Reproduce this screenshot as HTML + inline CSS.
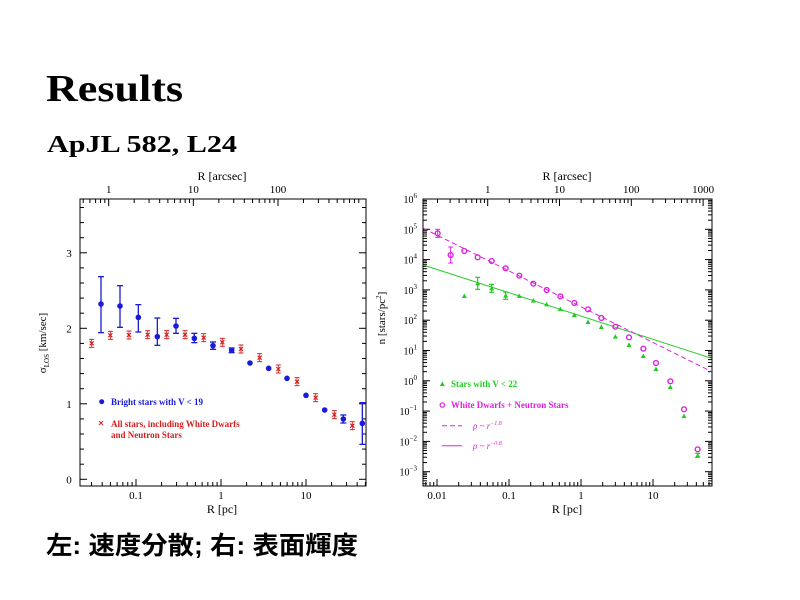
<!DOCTYPE html>
<html><head><meta charset="utf-8"><style>
body{margin:0;background:#fff;width:800px;height:600px;overflow:hidden}
svg{display:block}
</style></head><body>
<svg id="s" width="800" height="600" xmlns="http://www.w3.org/2000/svg" font-family="Liberation Serif, serif">
<text x="46" y="101" font-size="38" font-weight="bold" textLength="137" lengthAdjust="spacingAndGlyphs">Results</text>
<text x="47" y="152" font-size="24" font-weight="bold" textLength="190" lengthAdjust="spacingAndGlyphs">ApJL 582, L24</text>
<text x="46" y="554" font-size="25" font-weight="bold" textLength="312" lengthAdjust="spacingAndGlyphs" font-family="Liberation Sans, Noto Sans CJK JP, sans-serif">左: 速度分散; 右: 表面輝度</text>
</svg>
<script>
const S=document.getElementById('s');const NS='http://www.w3.org/2000/svg';
function el(t,a,txt){const e=document.createElementNS(NS,t);for(const k in a)e.setAttribute(k,a[k]);if(txt!==undefined)e.textContent=txt;S.appendChild(e);return e;}
function line(x1,y1,x2,y2,c,w,d){const a={x1,y1,x2,y2,stroke:c||'#000','stroke-width':w||1};if(d)a['stroke-dasharray']=d;el('line',a);}
function txt(x,y,s,o){o=o||{};return el('text',Object.assign({x,y,'font-size':11,'text-anchor':'middle'},o),s);}
const L=Math.log10;
// ---------- LEFT PANEL ----------
const l={x0:80,x1:366,y0:199,y1:486};
const lx=v=>221+85*L(v), ly=v=>479.3-75.5*v, lxa=v=>108.7+84.65*L(v);
el('rect',{x:l.x0,y:l.y0,width:l.x1-l.x0,height:l.y1-l.y0,fill:'none',stroke:'#000','stroke-width':1});
for(let d=-2;d<=1;d++)for(let m=1;m<10;m++){const v=m*Math.pow(10,d);const x=lx(v);if(x<l.x0||x>l.x1)continue;const len=m==1?7:4;line(x,l.y1,x,l.y1-len);}
for(let d=-1;d<=2;d++)for(let m=1;m<10;m++){const v=m*Math.pow(10,d);const x=lxa(v);if(x<l.x0||x>l.x1)continue;const len=m==1?7:4;line(x,l.y0,x,l.y0+len);}
for(let v=0;v<=3.7;v+=0.2){const y=ly(v);if(y<l.y0)continue;const maj=Math.abs(v-Math.round(v))<0.01;const len=maj?7:4;line(l.x0,y,l.x0+len,y);line(l.x1,y,l.x1-len,y);}
[[0.1,'0.1'],[1,'1'],[10,'10']].forEach(([v,s])=>txt(lx(v),499,s));
[[1,'1'],[10,'10'],[100,'100']].forEach(([v,s])=>txt(lxa(v),193,s));
[0,1,2,3].forEach(v=>txt(69,ly(v)+4,String(v)));
txt(222,513,'R [pc]',{'font-size':12});
txt(222,180,'R [arcsec]',{'font-size':12});
el('text',{x:0,y:0,'font-size':11,'text-anchor':'middle',transform:'translate(46,343) rotate(-90)'}).innerHTML='σ<tspan font-size="7" dy="3">LOS</tspan><tspan dy="-3"> [km/sec]</tspan>';
const toL=(zx,zy)=>[zx/3+30,zy/3+170];
const blue='#1a1ad8',red='#d42020';
const bp=[[213,402,320,488],[270,408,347,472],[325,442,404,486],[382,500,444,526],[438,468,445,490],[493,505,490,518],[549,527,516,538],[605,541,534,548],[660,579],[716,595],[771,625],[828,676],[884,720],[940,747,735,759],[997,760,698,823]];
bp.forEach(p=>{const [x,y]=toL(p[0],p[1]);if(p[2]){const y1=p[2]/3+170,y2=p[3]/3+170;line(x,y1,x,y2,blue,1.3);line(x-3,y1,x+3,y1,blue,1.3);line(x-3,y2,x+3,y2,blue,1.3);}el('circle',{cx:x,cy:y,r:2.8,fill:blue});});
const rp=[[185,520],[241,496],[297,495],[353,494],[410,494],[465,494],[521,503],[577,517],[633,537],[689,563],[745,597],[801,635],[857,683],[913,734],[967,767]];
rp.forEach(p=>{const [x,y]=toL(p[0],p[1]);line(x-2,y-2,x+2,y+2,red,1.2);line(x-2,y+2,x+2,y-2,red,1.2);line(x-2.5,y-4,x+2.5,y-4,red,1);line(x-2.5,y+4,x+2.5,y+4,red,1);line(x,y-4,x,y+4,red,0.8);});
el('circle',{cx:101.7,cy:401.7,r:2.5,fill:blue});
txt(111,405,'Bright stars with V < 19',{'text-anchor':'start','font-size':9,fill:blue,'font-weight':'bold'});
(()=>{const x=101,y=423;line(x-2,y-2,x+2,y+2,red);line(x-2,y+2,x+2,y-2,red);})();
txt(111,427,'All stars, including White Dwarfs',{'text-anchor':'start','font-size':9,fill:red,'font-weight':'bold'});
txt(111,438,'and Neutron Stars',{'text-anchor':'start','font-size':9,fill:red,'font-weight':'bold'});
// ---------- RIGHT PANEL ----------
const r={x0:423,x1:712,y0:199,y1:486};
const rx=v=>437+72*(L(v)+2), ry=lv=>199+30.3*(6-lv), rxa=v=>487.7+71.8*L(v);
el('rect',{x:r.x0,y:r.y0,width:r.x1-r.x0,height:r.y1-r.y0,fill:'none',stroke:'#000','stroke-width':1});
for(let d=-3;d<=1;d++)for(let m=1;m<10;m++){const v=m*Math.pow(10,d);const x=rx(v);if(x<r.x0||x>r.x1)continue;const len=m==1?7:4;line(x,r.y1,x,r.y1-len);}
for(let d=-1;d<=3;d++)for(let m=1;m<10;m++){const v=m*Math.pow(10,d);const x=rxa(v);if(x<r.x0||x>r.x1)continue;const len=m==1?7:4;line(x,r.y0,x,r.y0+len);}
for(let d=-4;d<=6;d++)for(let m=1;m<10;m++){const y=ry(d+L(m));if(y<r.y0-0.5||y>r.y1)continue;const len=m==1?7:4;line(r.x0,y,r.x0+len,y);line(r.x1,y,r.x1-len,y);}
[[0.01,'0.01'],[0.1,'0.1'],[1,'1'],[10,'10']].forEach(([v,s])=>txt(rx(v),499,s));
[[1,'1'],[10,'10'],[100,'100'],[1000,'1000']].forEach(([v,s])=>txt(rxa(v),193,s));
for(let d=-3;d<=6;d++){el('text',{x:417,y:ry(d)+4,'font-size':10,'text-anchor':'end'}).innerHTML='10<tspan font-size="7" dy="-5">'+(d<0?'−'+(-d):d)+'</tspan>';}
txt(567,513,'R [pc]',{'font-size':12});
txt(567,180,'R [arcsec]',{'font-size':12});
el('text',{x:0,y:0,'font-size':11,'text-anchor':'middle',transform:'translate(385,318) rotate(-90)'}).innerHTML='n [stars/pc<tspan font-size="7" dy="-4">2</tspan><tspan dy="4">]</tspan>';
const toR=(zx,zy)=>[zx/3+380,zy/3+170];
const grn='#22cc22',mag='#dd22dd';
let [a,b]=toR(130,285),[c,d]=toR(995,565);line(a,b,c,d,grn,1);
[a,b]=toR(130,175);[c,d]=toR(995,605);line(a,b,c,d,mag,1,'5,3');
const gp=[[253,378],[293,340,322,358],[335,355,343,367],[377,377,366,388],[418,378],[460,392],[500,403],[541,417],[583,435],[624,456],[664,471],[706,500],[747,525],[790,558],[828,597],[871,651],[912,738],[953,857,850,862]];
gp.forEach(p=>{const [x,y]=toR(p[0],p[1]);if(p[2]){const y1=p[2]/3+170,y2=p[3]/3+170;line(x,y1,x,y2,grn,1.2);line(x-2.5,y1,x+2.5,y1,grn,1.2);line(x-2.5,y2,x+2.5,y2,grn,1.2);}el('polygon',{points:`${x-2.5},${y+2} ${x+2.5},${y+2} ${x},${y-2.5}`,fill:grn});});
const mp=[[173,190],[212,255],[253,243],[293,262],[335,273],[377,295],[418,317],[460,341],[500,360],[541,379],[583,399],[624,418],[664,444],[706,470],[747,502],[790,536],[828,579],[871,634],[912,718],[953,838]];
mp.forEach((p,i)=>{const [x,y]=toR(p[0],p[1]);if(i==0||i==1){const e=i==1?8:4;line(x,y-e,x,y+e,mag,1);line(x-2.5,y-e,x+2.5,y-e,mag,1);line(x-2.5,y+e,x+2.5,y+e,mag,1);}el('circle',{cx:x,cy:y,r:2.4,fill:'none',stroke:mag,'stroke-width':1.4});});
[a,b]=toR(187,642);el('polygon',{points:`${a-2.5},${b+2} ${a+2.5},${b+2} ${a},${b-2.5}`,fill:grn});
txt(451,387,'Stars with V < 22',{'text-anchor':'start','font-size':9,fill:grn,'font-weight':'bold'});
[a,b]=toR(187,705);el('circle',{cx:a,cy:b,r:2.2,fill:'none',stroke:mag,'stroke-width':1.2});
txt(451,408,'White Dwarfs + Neutron Stars',{'text-anchor':'start','font-size':9,fill:mag,'font-weight':'bold'});
line(442,425.7,462,425.7,mag,1,'5,3');
el('text',{x:473,y:429,'font-size':9,fill:mag,'font-style':'italic'}).innerHTML='ρ ~ r<tspan font-size="6" dy="-4">−1.8</tspan>';
line(442,445.7,462,445.7,mag,1);
el('text',{x:473,y:449,'font-size':9,fill:mag,'font-style':'italic'}).innerHTML='ρ ~ r<tspan font-size="6" dy="-4">−0.8</tspan>';
</script>
</body></html>
